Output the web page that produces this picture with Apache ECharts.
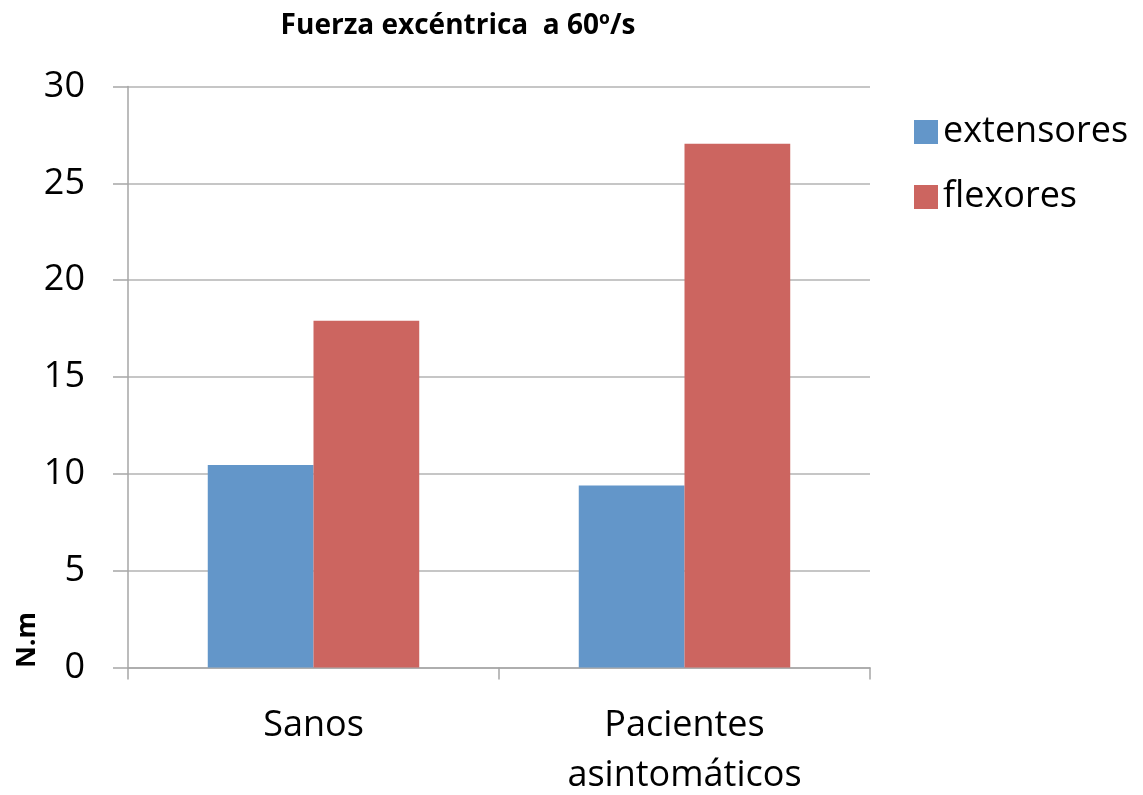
<!DOCTYPE html>
<html>
<head>
<meta charset="utf-8">
<title>Fuerza excéntrica</title>
<script src="https://cdn.jsdelivr.net/npm/echarts@6/dist/echarts.min.js"></script>
<style>
html, body { margin: 0; padding: 0; background: #fff; }
#main { width: 1143px; height: 795px; }
</style>
</head>
<body>
<div id="main"></div>
<script>
var categories = ['Sanos', 'Pacientes\nasintomáticos'];
var extensores = [10.45, 9.4];
var flexores = [17.9, 27.05];
var yTicks = [0, 5, 10, 15, 20, 25, 30];

var font = "'Open Sans', 'Liberation Sans', sans-serif";
var myChart = echarts.init(document.getElementById('main'));
var option = {
    animation: false,
    title: {
        text: 'Fuerza excéntrica  a 60º/s',
        left: 453,
        top: 7,
        textAlign: 'center',
        textStyle: { fontFamily: font, fontSize: 28, fontWeight: 'bold', color: '#000' }
    },
    legend: {
        orient: 'vertical',
        left: 909,
        top: 109,
        itemWidth: 24,
        itemHeight: 24,
        itemGap: 29,
        icon: 'rect',
        textStyle: { fontFamily: font, fontSize: 36, color: '#000' },
        data: ['extensores', 'flexores']
    },
    grid: { left: 128, right: 273, top: 86.5, bottom: 127.5, outerBoundsMode: 'none', containLabel: false },
    graphic: [{
        type: 'text',
        x: 27,
        y: 640,
        rotation: Math.PI / 2,
        style: {
            text: 'N.m',
            font: 'bold 27px ' + font,
            fill: '#000',
            align: 'center',
            verticalAlign: 'middle'
        }
    }],
    xAxis: {
        type: 'category',
        data: categories,
        axisLine: { lineStyle: { color: '#a6a6a6', width: 1.5 } },
        axisTick: { show: true, length: 12, lineStyle: { color: '#a6a6a6', width: 1.5 } },
        axisLabel: { fontFamily: font, fontSize: 36, color: '#000', margin: 33, lineHeight: 50 }
    },
    yAxis: {
        type: 'value',
        min: yTicks[0],
        max: yTicks[yTicks.length - 1],
        interval: 5,
        axisLine: { show: true, lineStyle: { color: '#a6a6a6', width: 1.5 } },
        axisTick: { show: true, length: 15, lineStyle: { color: '#a6a6a6', width: 1.5 } },
        axisLabel: { fontFamily: font, fontSize: 36, color: '#000', margin: 43 },
        splitLine: { lineStyle: { color: '#b3b3b3', width: 1.5 } }
    },
    series: [
        {
            name: 'extensores',
            type: 'bar',
            data: extensores,
            barGap: '0%',
            barCategoryGap: '43%',
            itemStyle: { color: '#6396c9' }
        },
        {
            name: 'flexores',
            type: 'bar',
            data: flexores,
            itemStyle: { color: '#cc6560' }
        }
    ]
};
myChart.setOption(option);
</script>
</body>
</html>
